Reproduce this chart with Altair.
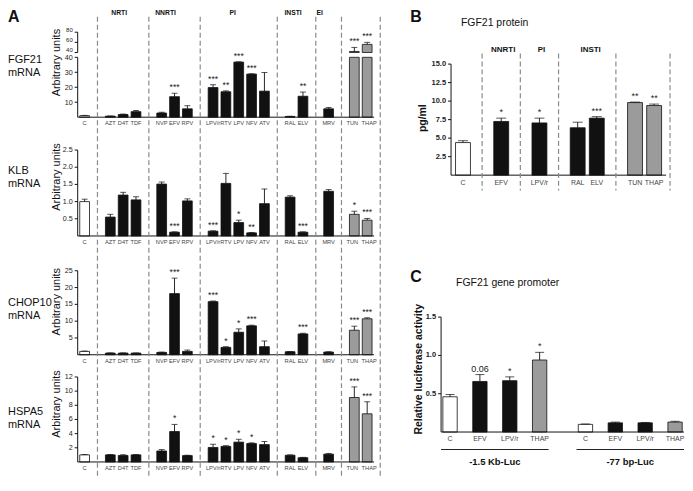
import altair as alt
import pandas as pd

# ---------------- data ----------------
A_CATS = ["C", "AZT", "D4T", "TDF", "NVP", "EFV", "RPV", "LPV/r", "RTV", "LPV",
          "NFV", "ATV", "RAL", "ELV", "MRV", "TUN", "THAP"]
A_KIND = ["control"] + ["drug"] * 14 + ["ER stressor"] * 2
A_SLOTS = ["C", "|1", "AZT", "D4T", "TDF", "|2", "NVP", "EFV", "RPV", "|3",
           "LPV/r", "RTV", "LPV", "NFV", "ATV", "|4", "RAL", "ELV", "|5", "MRV",
           "|6", "TUN", "THAP"]
A_SEPARATORS = ["|1", "|2", "|3", "|4", "|5", "|6"]
A_HEADERS = ["NRTI", "NNRTI", "PI", "INSTI", "EI"]
A_HEADER_AT = ["D4T", "EFV", "LPV", "RAL", "MRV"]

FGF21_MEAN = [1.0, 0.7, 1.8, 3.7, 2.8, 13.7, 5.6, 19.8, 17.0, 36.8, 28.8, 17.4, 0.5, 14.0, 5.6, 42.0, 56.0]
FGF21_ERR = [0.2, 0.1, 0.3, 0.8, 0.5, 2.3, 2.1, 1.9, 0.6, 0.2, 0.2, 12.5, 0.1, 2.8, 0.9, 8.0, 4.0]
FGF21_SIG = ["", "", "", "", "", "***", "", "***", "**", "***", "***", "", "", "**", "", "***", "***"]
FGF21_TICKS_LOW = [10, 20, 30, 40]
FGF21_TICKS_HIGH = [40, 60, 80]

KLB_MEAN = [1.0, 0.55, 1.19, 1.05, 1.51, 0.11, 1.02, 0.14, 1.53, 0.39, 0.09, 0.94, 1.13, 0.11, 1.30, 0.63, 0.46]
KLB_ERR = [0.07, 0.08, 0.08, 0.09, 0.06, 0.01, 0.06, 0.01, 0.29, 0.07, 0.01, 0.43, 0.04, 0.01, 0.05, 0.09, 0.05]
KLB_SIG = ["", "", "", "", "", "***", "", "***", "", "*", "**", "", "", "***", "", "*", "***"]
KLB_TICKS = [0.5, 1.0, 1.5, 2.0, 2.5]

CHOP_MEAN = [1.0, 0.5, 0.5, 0.5, 0.7, 18.2, 1.0, 15.8, 2.2, 6.7, 8.6, 2.4, 0.9, 6.2, 0.8, 7.3, 10.7]
CHOP_ERR = [0.1, 0.05, 0.05, 0.05, 0.1, 4.6, 0.4, 0.2, 0.2, 1.0, 0.2, 1.7, 0.05, 0.2, 0.1, 1.2, 0.3]
CHOP_SIG = ["", "", "", "", "", "***", "", "***", "*", "*", "***", "", "", "***", "", "***", "***"]
CHOP_TICKS = [5, 10, 15, 20, 25]

HSPA5_MEAN = [1.0, 1.0, 0.92, 1.0, 1.55, 4.3, 0.9, 2.05, 2.2, 2.8, 2.6, 2.45, 0.95, 0.6, 1.1, 9.1, 6.8]
HSPA5_ERR = [0.05, 0.05, 0.1, 0.05, 0.2, 1.0, 0.05, 0.45, 0.1, 0.4, 0.1, 0.45, 0.05, 0.05, 0.1, 1.5, 1.7]
HSPA5_SIG = ["", "", "", "", "", "*", "", "*", "*", "*", "*", "", "", "", "", "***", "***"]
HSPA5_TICKS = [2, 4, 6, 8, 10, 12]

B_CATS = ["C", "EFV", "LPV/r", "RAL", "ELV", "TUN", "THAP"]
B_KIND = ["control", "drug", "drug", "drug", "drug", "ER stressor", "ER stressor"]
B_MEAN = [4.4, 7.25, 7.05, 6.4, 7.7, 9.8, 9.4]
B_ERR = [0.25, 0.45, 0.65, 0.75, 0.2, 0.07, 0.2]
B_SIG = ["", "*", "*", "", "***", "**", "**"]
B_SLOTS = ["C", "|1", "EFV", "|2", "LPV/r", "|3", "RAL", "ELV", "|4", "TUN", "THAP"]
B_SEPARATORS = ["|1", "|2", "|3", "|4"]
B_HEADERS = ["NNRTI", "PI", "INSTI"]
B_HEADER_AT = ["EFV", "LPV/r", "RAL"]
B_TICKS = [2.5, 5.0, 7.5, 10.0, 12.5, 15.0]

C_CONSTRUCTS = ["-1.5 Kb-Luc", "-77 bp-Luc"]
C_CONSTRUCT = ["-1.5 Kb-Luc"] * 4 + ["-77 bp-Luc"] * 4
C_TREATS = ["C", "EFV", "LPV/r", "THAP"]
C_TREAT = C_TREATS * 2
C_KIND = ["control", "drug", "drug", "ER stressor"] * 2
C_MEAN = [0.46, 0.66, 0.67, 0.94, 0.10, 0.12, 0.12, 0.13]
C_ERR = [0.03, 0.09, 0.05, 0.10, 0.005, 0.01, 0.005, 0.01]
C_SIG = ["", "0.06", "*", "*", "", "", "", ""]
C_TICKS = [0.5, 1.0, 1.5]

KIND_DOMAIN = ["control", "drug", "ER stressor"]

# ---------------- layout / style ----------------
KIND_FILL = ["#ffffff", "#111111", "#9b9b9b"]
AX = "#111111"
W, H = 680, 470
FONT = "Liberation Sans, Arial, Helvetica, sans-serif"
A_HEADER_DX = [-4, -9, -6, 3, -9]
B_HEADER_DX = [2, 2, 13]
A_LABEL_NUDGE = {"TUN": -2, "THAP": 2}
ONE = pd.DataFrame({"v": [0]})


def RX(x):
    return x - 8


def RY(y):
    return round((y - 6) * 0.97, 2)


def band_range(start_ref, step, n, pin, pout):
    s = RX(start_ref)
    return [s, round(s + step * (n - pin + 2 * pout), 2)]


A_PIN, A_POUT = 0.24, 0.16
A_RANGE = band_range(78, 12.9, len(A_SLOTS), A_PIN, A_POUT)
B_PIN, B_POUT = 0.22, 0.235
B_RANGE = band_range(453, 19.2, len(B_SLOTS), B_PIN, B_POUT)
C_RANGE = [RX(443), RX(443) + 244]


def a_xscale():
    return alt.Scale(domain=A_SLOTS, range=A_RANGE, paddingInner=A_PIN, paddingOuter=A_POUT)


def b_xscale():
    return alt.Scale(domain=B_SLOTS, range=B_RANGE, paddingInner=B_PIN, paddingOuter=B_POUT)


def c_xscale():
    return alt.Scale(domain=C_CONSTRUCTS, range=C_RANGE, paddingInner=0.206, paddingOuter=0)


def c_oscale():
    return alt.Scale(domain=C_TREATS, paddingInner=0.52, paddingOuter=0.06)


def y_axis_parts(yscale, ax, domain, ticks, fmt, label_size=7.5, label_weight="normal", label_dy=0,
                 title=None, title_x=None, title_y=None, title_size=11, title_weight="normal"):
    ddf = pd.DataFrame({"lo": [domain[0]], "hi": [domain[1]]})
    dom = alt.Chart(ddf).mark_rule(color=AX, strokeWidth=1).encode(
        x=alt.value(ax), y=alt.Y("lo:Q", scale=yscale, axis=None), y2=alt.Y2("hi"))
    tdf = pd.DataFrame({"t": ticks})
    tk = alt.Chart(tdf).mark_rule(color=AX, strokeWidth=1).encode(
        x=alt.value(ax - 3), x2=alt.value(ax), y=alt.Y("t:Q", scale=yscale, axis=None))
    lb = alt.Chart(tdf).mark_text(align="right", baseline="middle", dy=label_dy, font=FONT,
                                  fontSize=label_size, fontWeight=label_weight, color="#222").encode(
        x=alt.value(ax - 5), y=alt.Y("t:Q", scale=yscale, axis=None), text=alt.Text("t:Q", format=fmt))
    parts = [dom, tk, lb]
    if title:
        parts.append(alt.Chart(ONE).mark_text(angle=270, align="center", baseline="middle", font=FONT,
                                              fontSize=title_size, fontWeight=title_weight, color="#111").encode(
            x=alt.value(title_x), y=alt.value(title_y), text=alt.value(title)))
    return parts


def x_axis_parts(df, xfield, xscale, yscale, x_range, dy=3, size=7, weight="normal",
                 color="#444", offset=None, domain_line=True, nudges=None):
    parts = []
    if domain_line:
        parts.append(alt.Chart(pd.DataFrame({"z": [0]})).mark_rule(color=AX, strokeWidth=1).encode(
            x=alt.value(x_range[0]), x2=alt.value(x_range[1]), y=alt.Y("z:Q", scale=yscale, axis=None)))
    tdf = df.assign(z=0)
    text_field = offset[0] if offset is not None else xfield
    enc = dict(x=alt.X(f"{xfield}:N", scale=xscale, axis=None),
               y=alt.Y("z:Q", scale=yscale, axis=None), text=f"{text_field}:N")
    if offset is not None:
        enc["xOffset"] = alt.XOffset(f"{offset[0]}:N", scale=offset[1])
    style = dict(baseline="top", dy=dy, font=FONT, fontSize=size, fontWeight=weight, color=color)
    nudges = nudges or {}
    main = alt.Chart(tdf)
    for cat in nudges:
        main = main.transform_filter(f"datum.{xfield} != '{cat}'")
    parts.append(main.mark_text(**style).encode(**enc))
    for cat, ndx in nudges.items():
        parts.append(alt.Chart(tdf).transform_filter(f"datum.{xfield} == '{cat}'").mark_text(
            dx=ndx, **style).encode(**enc))
    return parts


def make_bars(df, xfield, xscale, yscale, offset=None, y2_datum=None,
              bar_filter=None, ann_filter=None, cap_size=6, star_size=8.5):
    def X():
        return alt.X(f"{xfield}:N", scale=xscale, axis=None)

    def extra():
        if offset is None:
            return {}
        return {"xOffset": alt.XOffset(f"{offset[0]}:N", scale=offset[1])}

    base = alt.Chart(df)
    bsrc = base.transform_filter(bar_filter) if bar_filter else base
    enc = dict(x=X(), y=alt.Y("mean:Q", scale=yscale, axis=None),
               color=alt.Color("kind:N", scale=alt.Scale(domain=KIND_DOMAIN, range=KIND_FILL), legend=None),
               **extra())
    if y2_datum is not None:
        enc["y2"] = alt.datum(y2_datum)
    bars = bsrc.mark_bar(stroke="#111", strokeWidth=0.8).encode(**enc)
    asrc = base.transform_filter(ann_filter) if ann_filter else base
    asrc = asrc.transform_calculate(hi="datum.mean + datum.err")
    whisk = asrc.mark_rule(color="#111", strokeWidth=0.9).encode(
        x=X(), y=alt.Y("mean:Q", scale=yscale, axis=None), y2=alt.Y2("hi"), **extra())
    caps = asrc.mark_tick(color="#111", thickness=1, size=cap_size).encode(
        x=X(), y=alt.Y("hi:Q", scale=yscale, axis=None), **extra())
    stars = asrc.mark_text(baseline="bottom", dy=-1, font=FONT, fontSize=star_size, color="#222").encode(
        x=X(), y=alt.Y("hi:Q", scale=yscale, axis=None), text="sig:N", **extra())
    return [bars, whisk, caps, stars]


def a_df(mean, err, sig):
    return pd.DataFrame({"cat": A_CATS, "kind": A_KIND, "mean": mean, "err": err, "sig": sig})


def a_panel(df, domain, base_ref, top_ref, ticks, fmt, title_y_ref=None, show_x=True,
            clamp=False, bar_filter=None, ann_filter=None, y2_datum=None, label_size=7.2, label_dy=0):
    ys = alt.Scale(domain=domain, range=[RY(base_ref), RY(top_ref)], nice=False, zero=False, clamp=clamp)
    parts = make_bars(df, "cat", a_xscale(), ys, y2_datum=y2_datum,
                      bar_filter=bar_filter, ann_filter=ann_filter)
    parts += y_axis_parts(ys, RX(78), domain, ticks, fmt, label_size=label_size, label_dy=label_dy,
                          title="Arbitrary units" if title_y_ref else None,
                          title_x=RX(57), title_y=RY(title_y_ref) if title_y_ref else None)
    if show_x:
        parts += x_axis_parts(df, "cat", a_xscale(), ys, A_RANGE, dy=3, size=5.7, nudges=A_LABEL_NUDGE)
    return alt.layer(*parts)


def label(text, x, y, size, weight="normal", align="left", baseline="top", color="#111", line_height=None):
    kw = dict(align=align, baseline=baseline, fontSize=size, fontWeight=weight, font=FONT, color=color)
    if line_height:
        kw["lineHeight"] = line_height
    return alt.Chart(ONE).mark_text(**kw).encode(x=alt.value(x), y=alt.value(y), text=alt.value(text))


def separators(slots_scale, seps, end_cat, end_dx, y_top, y_bot, headers, header_at, header_dx,
               header_y, header_size):
    dash = dict(color="#8a8a8a", strokeWidth=1.2, strokeDash=[5, 3])
    sep = alt.Chart(pd.DataFrame({"cat": seps})).mark_rule(**dash).encode(
        x=alt.X("cat:N", scale=slots_scale, axis=None), y=alt.value(y_top), y2=alt.value(y_bot))
    end = alt.Chart(pd.DataFrame({"cat": [end_cat]})).mark_rule(xOffset=end_dx, **dash).encode(
        x=alt.X("cat:N", scale=slots_scale, axis=None, bandPosition=1),
        y=alt.value(y_top), y2=alt.value(y_bot))
    parts = [sep, end]
    for h, at, dx in zip(headers, header_at, header_dx):
        parts.append(alt.Chart(pd.DataFrame({"cat": [at], "h": [h]})).mark_text(
            font=FONT, fontSize=header_size, fontWeight="bold", color="#111", baseline="middle", dx=dx
        ).encode(x=alt.X("cat:N", scale=slots_scale, axis=None), y=alt.value(header_y), text="h:N"))
    return alt.layer(*parts)


layers = []

# ---- Panel A ----
fgf = a_df(FGF21_MEAN, FGF21_ERR, FGF21_SIG)
layers.append(a_panel(fgf, [0, 40], 118, 56, FGF21_TICKS_LOW, "d", title_y_ref=61.5,
                      clamp=True, ann_filter="datum.mean <= 40", label_dy=0.8))
layers.append(a_panel(fgf, [40, 80], 51, 30, FGF21_TICKS_HIGH, "d", show_x=False,
                      bar_filter="datum.mean > 40", ann_filter="datum.mean > 40", y2_datum=40,
                      label_size=6, label_dy=-2))
layers.append(a_panel(a_df(KLB_MEAN, KLB_ERR, KLB_SIG), [0, 2.5], 241, 152,
                      KLB_TICKS, ".1f", title_y_ref=180))
layers.append(a_panel(a_df(CHOP_MEAN, CHOP_ERR, CHOP_SIG), [0, 25], 364, 277,
                      CHOP_TICKS, "d", title_y_ref=309))
layers.append(a_panel(a_df(HSPA5_MEAN, HSPA5_ERR, HSPA5_SIG), [0, 12], 475, 387,
                      HSPA5_TICKS, "d", title_y_ref=415))
layers.append(separators(a_xscale(), A_SEPARATORS, "THAP", 8.2, RY(14), H,
                         A_HEADERS, A_HEADER_AT, A_HEADER_DX, RY(10), 6.8))

# ---- Panel B ----
bdf = pd.DataFrame({"cat": B_CATS, "kind": B_KIND, "mean": B_MEAN, "err": B_ERR, "sig": B_SIG})
b_ys = alt.Scale(domain=[0, 15], range=[RY(178), RY(63)], nice=False, zero=False)
b_parts = make_bars(bdf, "cat", b_xscale(), b_ys, cap_size=10, star_size=9)
b_parts += y_axis_parts(b_ys, RX(453), [0, 15], B_TICKS, ".1f", label_size=7.5, label_weight="bold",
                        title="pg/ml", title_x=RX(425), title_y=RY(119), title_size=10.5, title_weight="bold")
b_parts += x_axis_parts(bdf, "cat", b_xscale(), b_ys, B_RANGE, dy=3.5, size=7)
layers.append(alt.layer(*b_parts))
layers.append(separators(b_xscale(), B_SEPARATORS, "THAP", 8.5, RY(52), RY(194),
                         B_HEADERS, B_HEADER_AT, B_HEADER_DX, RY(48), 8))

# ---- Panel C ----
cdf = pd.DataFrame({"construct": C_CONSTRUCT, "treat": C_TREAT, "kind": C_KIND,
                    "mean": C_MEAN, "err": C_ERR, "sig": C_SIG})
c_ys = alt.Scale(domain=[0, 1.5], range=[RY(444), RY(325)], nice=False, zero=False)
c_parts = make_bars(cdf, "construct", c_xscale(), c_ys, offset=("treat", c_oscale()),
                    cap_size=9, star_size=9)
c_parts += y_axis_parts(c_ys, RX(443), [0, 1.5], C_TICKS, ".1f", label_size=7.5, label_weight="bold",
                        title="Relative luciferase activity", title_x=RX(420.5), title_y=RY(379),
                        title_size=10.5, title_weight="bold")
c_parts += x_axis_parts(cdf, "construct", c_xscale(), c_ys, C_RANGE, dy=3, size=7,
                        offset=("treat", c_oscale()))
c_parts += x_axis_parts(pd.DataFrame({"construct": C_CONSTRUCTS}), "construct", c_xscale(), c_ys, C_RANGE,
                        dy=25, size=9.5, weight="bold", color="#111", domain_line=False)
c_parts.append(alt.Chart(pd.DataFrame({"construct": C_CONSTRUCTS})).mark_bar(color="#222").encode(
    x=alt.X("construct:N", scale=c_xscale(), axis=None),
    y=alt.value(RY(461.5)), y2=alt.value(RY(462.6))))
layers.append(alt.layer(*c_parts))

# ---- text annotations ----
layers += [
    label("A", 0, 0, 16, "bold"),
    label("B", RX(412), 0, 16, "bold"),
    label("C", RX(412), RY(275), 16, "bold"),
    label("FGF21 protein", RX(463), RY(20), 10.5, baseline="middle"),
    label("FGF21 gene promoter", RX(458), RY(290), 10.5, baseline="middle"),
    label(["FGF21", "mRNA"], 0, RY(52.5), 11, line_height=13),
    label(["KLB", "mRNA"], 0, RY(167.5), 11, line_height=13),
    label(["CHOP10", "mRNA"], 0, RY(304), 11, line_height=13),
    label(["HSPA5", "mRNA"], 0, RY(417), 11, line_height=13),
]

chart = alt.layer(*layers).resolve_scale(
    x="independent", y="independent"
).properties(
    width=W, height=H, padding=0, autosize=alt.AutoSizeParams(type="none")
).configure_view(stroke=None)

chart.save("out.html", embed_options={"renderer": "svg", "actions": False})
